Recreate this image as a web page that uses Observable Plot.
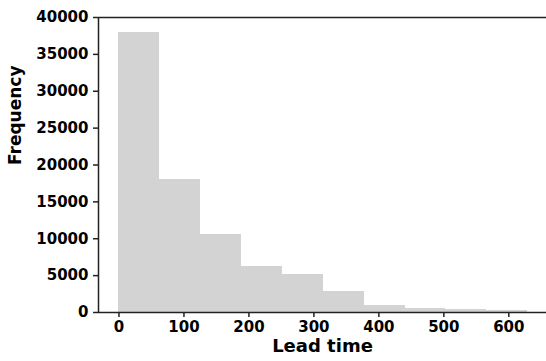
<!DOCTYPE html>
<html>
<head>
<meta charset="utf-8">
<script src="https://cdn.jsdelivr.net/npm/d3@7"></script>
<script src="https://cdn.jsdelivr.net/npm/@observablehq/plot@0.6"></script>
<style>
  html, body { margin: 0; padding: 0; background: #fff; }
  #chart svg { display: block; }
</style>
</head>
<body>
<div id="chart"></div>
<script>
// Histogram bin edges (lead time, days) and frequencies
const binStarts = [0, 62.9, 125.8, 188.7, 251.6, 314.5, 377.4, 440.3, 503.2, 566.1];
const binEnds   = [62.9, 125.8, 188.7, 251.6, 314.5, 377.4, 440.3, 503.2, 566.1, 629];
const frequency = [38000, 18000, 10600, 6200, 5200, 2850, 900, 520, 380, 280];
const xTicks = [0, 100, 200, 300, 400, 500, 600];
const yTicks = [0, 5000, 10000, 15000, 20000, 25000, 30000, 35000, 40000];
const xLabel = "Lead time";
const yLabel = "Frequency";
const xDomain = [-31.5, 658];
const yDomain = [0, 40000];

const bins = binStarts.map((s, i) => ({x1: s, x2: binEnds[i], y: frequency[i]}));
const axisColor = "#222";

const chart = Plot.plot({
  width: 546,
  height: 361,
  marginLeft: 98,
  marginRight: 0,
  marginTop: 17,
  marginBottom: 49,
  style: {fontFamily: "DejaVu Sans", fontSize: "15px", fontWeight: "bold", color: "black", background: "white"},
  x: {domain: xDomain},
  y: {domain: yDomain},
  marks: [
    Plot.rectY(bins, {x1: "x1", x2: "x2", y: "y", fill: "#d3d3d3", inset: 0, shapeRendering: "crispEdges"}),
    Plot.axisX({ticks: xTicks, tickSize: 5, tickPadding: 4, tickFormat: d => String(d), label: null, stroke: axisColor, strokeWidth: 1.5, fill: "black", fontSize: 15}),
    Plot.axisY({ticks: yTicks, tickSize: 5, tickPadding: 5, tickFormat: d => String(d), label: null, stroke: axisColor, strokeWidth: 1.5, fill: "black", fontSize: 15}),
    Plot.ruleY([yDomain[0]], {stroke: axisColor, strokeWidth: 1.5}),
    Plot.ruleY([yDomain[1]], {stroke: axisColor, strokeWidth: 1.5}),
    Plot.ruleX([xDomain[0]], {stroke: axisColor, strokeWidth: 1.5}),
    Plot.text([xLabel], {frameAnchor: "bottom", dy: 39, fontSize: 18, fontWeight: "bold", fill: "black"}),
    Plot.text([yLabel], {frameAnchor: "left", dx: -82.5, rotate: -90, fontSize: 17, fontWeight: "bold", fill: "black"})
  ]
});
document.getElementById("chart").appendChild(chart);
</script>
</body>
</html>
